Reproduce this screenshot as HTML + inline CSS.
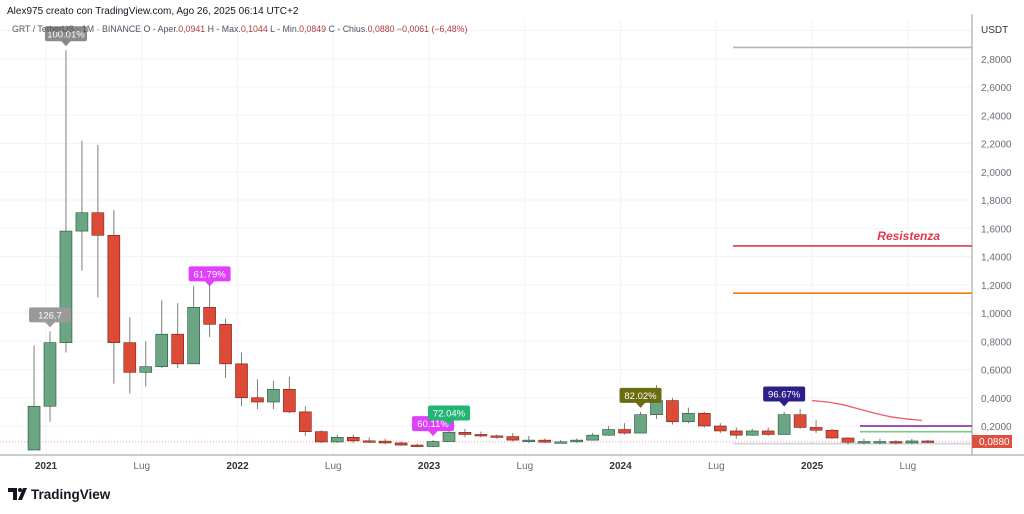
<!DOCTYPE html>
<html><head><meta charset="utf-8"><style>
html,body{margin:0;padding:0;background:#fff;width:1024px;height:514px;overflow:hidden;font-family:"Liberation Sans",sans-serif}
svg{position:absolute;left:0;top:0}
</style></head><body>
<svg id="chart" width="1024" height="514"></svg>
<script>
const months=["Dec20","Jan21","Feb21","Mar21","Apr21","May21","Jun21","Jul21","Aug21","Sep21","Oct21","Nov21","Dec21","Jan22","Feb22","Mar22","Apr22","May22","Jun22","Jul22","Aug22","Sep22","Oct22","Nov22","Dec22","Jan23","Feb23","Mar23","Apr23","May23","Jun23","Jul23","Aug23","Sep23","Oct23","Nov23","Dec23","Jan24","Feb24","Mar24","Apr24","May24","Jun24","Jul24","Aug24","Sep24","Oct24","Nov24","Dec24","Jan25","Feb25","Mar25","Apr25","May25","Jun25","Jul25","Aug25"];
const opens=[0.03,0.34,0.79,1.58,1.71,1.55,0.79,0.58,0.62,0.85,0.64,1.04,0.92,0.64,0.40,0.37,0.46,0.30,0.16,0.087,0.12,0.095,0.093,0.08,0.065,0.055,0.09,0.155,0.14,0.13,0.125,0.10,0.10,0.085,0.088,0.10,0.135,0.175,0.15,0.28,0.38,0.23,0.29,0.20,0.165,0.135,0.165,0.14,0.28,0.19,0.17,0.115,0.085,0.09,0.09,0.08,0.094];
const closes=[0.34,0.79,1.58,1.71,1.55,0.79,0.58,0.62,0.85,0.64,1.04,0.92,0.64,0.40,0.37,0.46,0.30,0.16,0.087,0.12,0.095,0.093,0.08,0.065,0.055,0.09,0.155,0.14,0.13,0.125,0.10,0.10,0.085,0.088,0.10,0.135,0.175,0.15,0.28,0.38,0.23,0.29,0.20,0.165,0.135,0.165,0.14,0.28,0.19,0.17,0.115,0.085,0.09,0.09,0.08,0.094,0.088];
const highs=[0.77,0.87,2.86,2.22,2.19,1.73,0.97,0.80,1.09,1.07,1.19,1.23,0.96,0.72,0.53,0.52,0.55,0.34,0.17,0.14,0.14,0.12,0.11,0.09,0.075,0.10,0.17,0.18,0.16,0.14,0.15,0.13,0.11,0.10,0.11,0.15,0.20,0.22,0.30,0.49,0.40,0.33,0.30,0.22,0.19,0.18,0.19,0.30,0.32,0.24,0.18,0.12,0.11,0.11,0.10,0.11,0.10];
const lows=[0.03,0.23,0.72,1.30,1.11,0.50,0.43,0.48,0.61,0.61,0.64,0.83,0.54,0.34,0.32,0.32,0.29,0.13,0.08,0.08,0.08,0.08,0.07,0.06,0.05,0.05,0.09,0.12,0.12,0.11,0.09,0.08,0.08,0.08,0.08,0.10,0.13,0.14,0.15,0.25,0.21,0.22,0.19,0.15,0.11,0.13,0.13,0.14,0.18,0.15,0.11,0.07,0.07,0.07,0.07,0.07,0.08];
const priceTicks=[0.2,0.4,0.6,0.8,1.0,1.2,1.4,1.6,1.8,2.0,2.2,2.4,2.6,2.8];
const timeLabels=["2021","Lug","2022","Lug","2023","Lug","2024","Lug","2025","Lug"];
const timeLabelIdx=[1,7,13,19,25,31,37,43,49,55];
const levelPrices=[2.88,1.475,1.14,0.2,0.16,0.075];
const levelColors=["#b2b5be","#e0384d","#f57c00","#7b1fa2","#81c784","#d1d4dc"];
const levelStarts=[733,733,733,860,860,733];
const curvePrices=[0.38,0.37,0.35,0.32,0.29,0.265,0.25,0.24];
const badges=[{i:2,t:"100.01%",c:"#8a8a8a",p:2.86},{i:1,t:"126.7",c:"#9a9a9a",p:0.87},{i:11,t:"61.79%",c:"#e040fb",p:1.16},{i:25,t:"60.11%",c:"#e040fb",p:0.10},{i:26,t:"72.04%",c:"#22b573",p:0.175},{i:38,t:"82.02%",c:"#6b6b10",p:0.30},{i:47,t:"96.67%",c:"#2c1f8a",p:0.31}];
const PX=972;
function y(p){return 454.25-141.25*p;}
function x(i){return 46+(i-1)*15.96;}
function cx(i){return x(i)+4;}
const S=document.getElementById('chart');const NS="http://www.w3.org/2000/svg";
function mk(tag,a,par){const e=document.createElementNS(NS,tag);for(const k in a)e.setAttribute(k,a[k]);(par||S).appendChild(e);return e;}
priceTicks.concat([3.0]).forEach(p=>{const l=mk('line',{x1:0,x2:PX,y1:y(p),y2:y(p),stroke:'#f0f3fa'});

});
timeLabelIdx.forEach(i=>{const l=mk('line',{x1:x(i),x2:x(i),y1:20,y2:455,stroke:'#f0f3fa'});

});
let ax=mk('line',{x1:PX,x2:PX,y1:14,y2:455,stroke:'#9598a1'});


let bx=mk('line',{x1:0,x2:1024,y1:455,y2:455,stroke:'#9598a1'});


priceTicks.forEach(p=>{const t=mk('text',{x:981,y:y(p)+4,'font-size':10,fill:'#6a6d78'});t.textContent=p.toFixed(4).replace('.',',');

});
let u=mk('text',{x:981,y:33,'font-size':10,fill:'#333'});u.textContent='USDT';


timeLabels.forEach((s,k)=>{const t=mk('text',{x:x(timeLabelIdx[k]),y:469,'font-size':10,'text-anchor':'middle',fill:s=='Lug'?'#6a6d78':'#333','font-weight':s=='Lug'?'normal':'bold'});t.textContent=s;

});
levelPrices.forEach((p,k)=>{const l=mk('line',{x1:levelStarts[k],x2:PX,y1:y(p),y2:y(p),stroke:levelColors[k],'stroke-width':1.6});

});
let rt=mk('text',{x:940,y:y(levelPrices[1])-6,'font-size':12,'font-style':'italic','font-weight':'bold','text-anchor':'end',fill:'#e0384d'});rt.textContent='Resistenza';


let dl=mk('line',{x1:0,x2:PX,y1:y(closes[closes.length-1]),y2:y(closes[closes.length-1]),stroke:'#f0a0a0','stroke-dasharray':'1 2'});


let d=curvePrices.map((p,k)=>(k?'L':'M')+(812+k*15.7)+' '+y(p)).join(' ');
let cv=mk('path',{d:d,fill:'none',stroke:'#ef5a6f','stroke-width':1.3});


months.forEach((m,i)=>{const up=closes[i]>=opens[i];const col=up?'#6ba583':'#dc4a38';const edge=up?'#225437':'#7a2015';
const g=mk('g',{});


mk('line',{x1:cx(i),x2:cx(i),y1:y(highs[i]),y2:y(lows[i]),stroke:'#7d7d7d'},g);
const t=Math.min(y(opens[i]),y(closes[i]));const h=Math.max(1.5,Math.abs(y(opens[i])-y(closes[i])));
mk('rect',{x:cx(i)-6,y:t,width:12,height:h,fill:col,stroke:edge,'stroke-width':0.6},g);});
badges.forEach(b=>{const g=mk('g',{});


const X=cx(b.i), yy=y(b.p)-8;
mk('rect',{x:X-21,y:yy-16,width:42,height:15,rx:2,fill:b.c},g);
mk('path',{d:`M${X-5} ${yy-1.5}L${X} ${yy+4}L${X+5} ${yy-1.5}Z`,fill:b.c},g);
const t=mk('text',{x:X,y:yy-5,'font-size':9.5,'text-anchor':'middle',fill:'#fff'},g);t.textContent=b.t;});
let pg=mk('g',{});


mk('rect',{x:972,y:435,width:40,height:13,fill:'#e0503f'},pg);
let pt=mk('text',{x:979,y:445,'font-size':10,fill:'#fff'},pg);pt.textContent='0,0880';
let h1=mk('text',{x:7,y:14,'font-size':10,fill:'#131722'});h1.textContent='Alex975 creato con TradingView.com, Ago 26, 2025 06:14 UTC+2';


let h2=mk('text',{x:12,y:32,'font-size':8.8,fill:'#50535e'});


h2.innerHTML='GRT / TetherUS · 1M · BINANCE  O - Aper.<tspan fill="#b23a3a">0,0941</tspan>  H - Max.<tspan fill="#b23a3a">0,1044</tspan>  L - Min.<tspan fill="#b23a3a">0,0849</tspan>  C - Chius.<tspan fill="#b23a3a">0,0880</tspan>  <tspan fill="#b23a3a">−0,0061 (−6,48%)</tspan>';
let lg=mk('g',{});


mk('path',{d:'M8 488h9v12h-4v-8h-5z M18 500l5-12h4l-5 12z',fill:'#131722'},lg);
mk('circle',{cx:20,cy:490,r:2,fill:'#131722'},lg);
let lt=mk('text',{x:31,y:499,'font-size':13.5,'font-weight':'bold',fill:'#131722'},lg);lt.textContent='TradingView';
</script>
</body></html>
